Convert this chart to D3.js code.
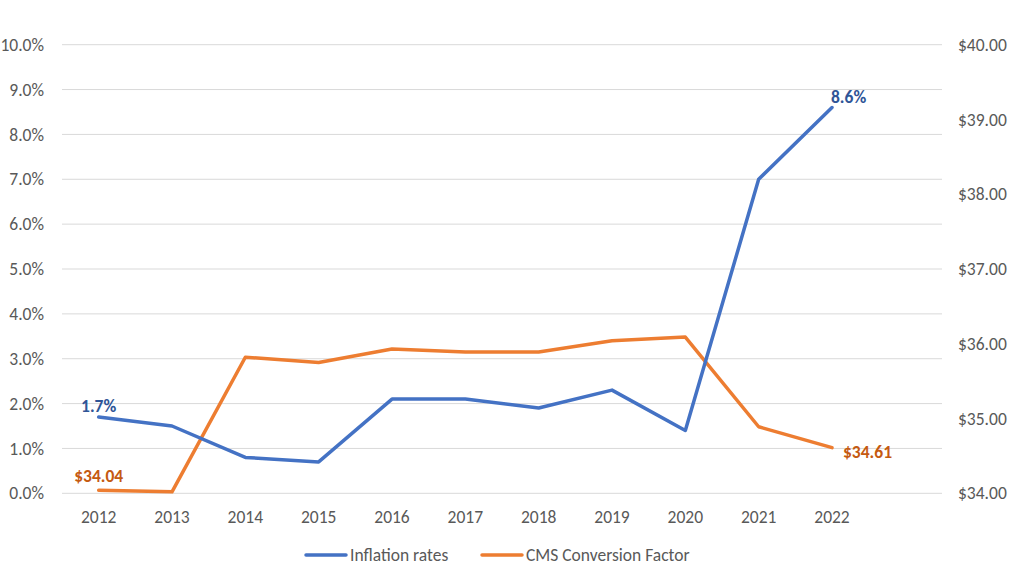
<!DOCTYPE html>
<html>
<head>
<meta charset="utf-8">
<script src="https://cdn.jsdelivr.net/npm/d3@7"></script>
<style>
body { margin: 0; background: #fff; }
svg { font-family: Calibri, Carlito, "Liberation Sans", sans-serif; }
</style>
</head>
<body>
<svg></svg>
<script>
var years = ["2012","2013","2014","2015","2016","2017","2018","2019","2020","2021","2022",""]
var inflation = [1.7, 1.5, 0.8, 0.7, 2.1, 2.1, 1.9, 2.3, 1.4, 7.0, 8.6]
var cmsFactor = [34.04, 34.02, 35.82, 35.75, 35.93, 35.89, 35.89, 36.04, 36.09, 34.89, 34.61]
var leftTicks = [0,1,2,3,4,5,6,7,8,9,10]
var rightTicks = [34,35,36,37,38,39,40]

var W = 1014, H = 573
var plot = {left: 62, right: 942, top: 44.7, bottom: 493.3}
var fontSize = "17.5px"

var svg = d3.select("svg").attr("width", W).attr("height", H)

var x = d3.scaleBand().domain(years).range([plot.left, plot.right])
var yL = d3.scaleLinear().domain([0, 10]).range([plot.bottom, plot.top])
var yR = d3.scaleLinear().domain([34, 40]).range([plot.bottom, plot.top])
var cx = function(i){ return x(years[i]) + x.bandwidth()/2 }

//gridlines
svg.append("g").selectAll("line").data(leftTicks).enter().append("line")
.attr("x1", plot.left).attr("x2", plot.right)
.attr("y1", function(d){return yL(d)}).attr("y2", function(d){return yL(d)})
.style("stroke", "#d9d9d9").style("stroke-width", 1)

//axes
var leftAxis = d3.axisLeft(yL).tickValues(leftTicks).tickSize(0).tickPadding(18)
.tickFormat(function(d){return d.toFixed(1) + "%"})
var gL = svg.append("g").attr("transform", "translate(" + plot.left + ",0)").call(leftAxis)

var rightAxis = d3.axisRight(yR).tickValues(rightTicks).tickSize(0).tickPadding(16)
.tickFormat(function(d){return "$" + d.toFixed(2)})
var gR = svg.append("g").attr("transform", "translate(" + plot.right + ",0)").call(rightAxis)

var xAxis = d3.axisBottom(x).tickSize(0).tickPadding(17)
var gX = svg.append("g").attr("transform", "translate(0," + plot.bottom + ")").call(xAxis)

;[gL, gR, gX].forEach(function(g){
g.select(".domain").remove()
g.selectAll("text").style("font-size", fontSize).style("fill", "#595959")
.style("font-family", "Calibri, Carlito, 'Liberation Sans', sans-serif")
})

var blue = "#4472C4", orange = "#ED7D31"

var lineL = d3.line().x(function(d, i){return cx(i)}).y(function(d){return yL(d)})
var lineR = d3.line().x(function(d, i){return cx(i)}).y(function(d){return yR(d)})

svg.append("path").datum(cmsFactor).attr("d", lineR)
.style("fill", "none").style("stroke", orange).style("stroke-width", 3.5)
.style("stroke-linejoin", "round").style("stroke-linecap", "round")

svg.append("path").datum(inflation).attr("d", lineL)
.style("fill", "none").style("stroke", blue).style("stroke-width", 3.5)
.style("stroke-linejoin", "round").style("stroke-linecap", "round")

//data labels
var last = inflation.length - 1
var labels = svg.append("g").style("font-size", fontSize).style("font-weight", "bold")
labels.append("text").attr("x", cx(0)).attr("y", yL(inflation[0]) - 5)
.attr("text-anchor", "middle").style("fill", "#2F5597").text(inflation[0].toFixed(1) + "%")
labels.append("text").attr("x", cx(last) - 1).attr("y", yL(inflation[last]) - 5)
.attr("text-anchor", "start").style("fill", "#2F5597").text(inflation[last].toFixed(1) + "%")
labels.append("text").attr("x", cx(0)).attr("y", yR(cmsFactor[0]) - 8)
.attr("text-anchor", "middle").style("fill", "#C55A11").text("$" + cmsFactor[0].toFixed(2))
labels.append("text").attr("x", cx(last) + 11).attr("y", yR(cmsFactor[last]) + 10)
.attr("text-anchor", "start").style("fill", "#C55A11").text("$" + cmsFactor[last].toFixed(2))

//legend
var legend = [{name: "Inflation rates", color: blue, x: 306}, {name: "CMS Conversion Factor", color: orange, x: 482}]
var lg = svg.append("g").selectAll("g").data(legend).enter().append("g")
.attr("transform", function(d){return "translate(" + d.x + ",555)"})
lg.append("line").attr("x1", 0).attr("x2", 40).attr("y1", 0).attr("y2", 0)
.style("stroke", function(d){return d.color}).style("stroke-width", 3.5).style("stroke-linecap", "round")
lg.append("text").attr("x", 44).attr("y", 6).style("font-size", fontSize).style("fill", "#595959")
.text(function(d){return d.name})
</script>
</body>
</html>
